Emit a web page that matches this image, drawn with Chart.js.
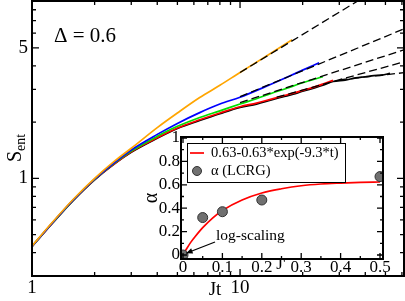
<!DOCTYPE html>
<html>
<head>
<meta charset="utf-8">
<script src="https://cdn.jsdelivr.net/npm/chart.js@4.4.0/dist/chart.umd.min.js"></script>
<style>
html, body { margin: 0; padding: 0; background: #fff; }
#wrap { position: relative; width: 405px; height: 301px; }
#wrap canvas { position: absolute; left: 0; top: 0; }
</style>
</head>
<body>
<div id="wrap">
  <canvas id="main" width="405" height="301"></canvas>
  <canvas id="inset" width="405" height="301"></canvas>
</div>
<script>
// --- data: main plot (Jt vs S_ent) ---
const tOrange = [1, 1.25, 1.58, 2, 2.5, 3, 4, 5, 6.4, 8, 10, 13, 17.8];
const sOrange = [0.434, 0.58, 0.773, 1.0, 1.24, 1.45, 1.87, 2.24, 2.71, 3.15, 3.69, 4.43, 5.52];

const tBlue = [1, 1.25, 1.58, 2, 2.5, 3, 4, 5, 6.4, 8, 10, 13, 17, 20, 24];
const sBlue = [0.432, 0.576, 0.767, 0.99, 1.22, 1.42, 1.72, 1.97, 2.25, 2.5, 2.72, 3.07, 3.5, 3.8, 4.16];

const tGreen = [1, 1.25, 1.58, 2, 2.5, 3, 4, 5, 6.4, 8, 10, 12, 14, 16.8, 20, 25];
const sGreen = [0.432, 0.575, 0.765, 0.987, 1.21, 1.4, 1.68, 1.9, 2.12, 2.3, 2.5, 2.67, 2.84, 3.04, 3.25, 3.5];

const tRed = [1, 1.25, 1.58, 2, 2.5, 3, 4, 5, 6.4, 8, 10, 12, 14, 16, 18, 20, 23, 25, 28];
const sRed = [0.432, 0.574, 0.764, 0.985, 1.2, 1.39, 1.65, 1.86, 2.06, 2.24, 2.42, 2.53, 2.65, 2.76, 2.86, 2.96, 3.1, 3.2, 3.35];

const tBlack = [1, 1.25, 1.58, 2, 2.5, 3, 4, 5, 6.4, 8, 10, 12, 14, 16, 18, 20, 23, 25, 28, 32, 36, 40, 44, 48, 52.6];
const sBlack = [0.432, 0.573, 0.762, 0.982, 1.2, 1.38, 1.64, 1.85, 2.04, 2.22, 2.4, 2.5, 2.62, 2.73, 2.82, 2.93, 3.06, 3.15, 3.3, 3.36, 3.45, 3.5, 3.55, 3.57, 3.65];

// dashed fits: start and end points
const fitOrange = [[10, 3.69], [61.4, 12.6]];
const fitBlue = [[10, 2.74], [61.4, 6.32]];
const fitGreen = [[10, 2.545], [61.4, 4.88]];
const fitRed = [[15, 2.72], [61.4, 4.21]];
const fitBlack = [[30, 3.37], [61.4, 3.68]];

// --- data: inset (alpha vs J') ---
const jFit = [0, 0.01, 0.02, 0.03, 0.05, 0.075, 0.1, 0.15, 0.2, 0.25, 0.3, 0.35, 0.4, 0.45, 0.5];
const aFit = [0, 0.058, 0.11, 0.154, 0.234, 0.316, 0.381, 0.47, 0.53, 0.566, 0.592, 0.607, 0.615, 0.621, 0.624];
const jPts = [0, 0.05, 0.1, 0.2, 0.5];
const aPts = [0, 0.32, 0.37, 0.47, 0.67];

const SERIF = "'Liberation Serif', 'DejaVu Serif', serif";

function pts(xs, ys) {
    return xs.map((x, i) => ({ x: x, y: ys[i] }));
}
function pairs(arr) {
    return arr.map(p => ({ x: p[0], y: p[1] }));
}

function solid(data, color, order) {
    return { data: data, borderColor: color, borderWidth: 1.7, pointRadius: 0, showLine: true, order: order };
}
function dashed(data) {
    return { data: data, borderColor: '#000', borderWidth: 1.3, borderDash: [8, 4], pointRadius: 0, showLine: true, order: 0 };
}

// ticks pointing inwards on all four sides
function drawFrame(chart, xMaj, xMin, yMaj, yMin, majLen, minLen) {
    const ctx = chart.ctx;
    const a = chart.chartArea;
    const sx = chart.scales.x, sy = chart.scales.y;
    ctx.save();
    ctx.strokeStyle = '#000';
    ctx.lineWidth = 1.3;
    ctx.beginPath();
    const tick = (v, len, isX) => {
        if (isX) {
            const p = sx.getPixelForValue(v);
            ctx.moveTo(p, a.bottom); ctx.lineTo(p, a.bottom - len);
            ctx.moveTo(p, a.top); ctx.lineTo(p, a.top + len);
        } else {
            const p = sy.getPixelForValue(v);
            ctx.moveTo(a.left, p); ctx.lineTo(a.left + len, p);
            ctx.moveTo(a.right, p); ctx.lineTo(a.right - len, p);
        }
    };
    xMaj.forEach(v => tick(v, majLen, true));
    xMin.forEach(v => tick(v, minLen, true));
    yMaj.forEach(v => tick(v, majLen, false));
    yMin.forEach(v => tick(v, minLen, false));
    ctx.stroke();
    ctx.lineWidth = 2;
    ctx.strokeRect(a.left, a.top, a.right - a.left, a.bottom - a.top);
    ctx.restore();
}

const mainPlugin = {
    id: 'mainDeco',
    afterDraw(chart) {
        const ctx = chart.ctx;
        const a = chart.chartArea;
        const sx = chart.scales.x, sy = chart.scales.y;
        drawFrame(chart, [1, 10], [2, 3, 4, 5, 6, 7, 8, 9, 20, 30, 40, 50, 60],
            [1, 5], [0.4, 0.5, 0.6, 0.7, 0.8, 0.9, 2, 3, 4, 6, 7, 8], 7, 4);
        ctx.save();
        ctx.fillStyle = '#000';
        ctx.font = '19px ' + SERIF;
        ctx.textBaseline = 'middle';
        ctx.textAlign = 'right';
        [1, 5].forEach(v => ctx.fillText(String(v), a.left - 4, sy.getPixelForValue(v)));
        ctx.textAlign = 'center';
        ctx.textBaseline = 'top';
        [1, 10].forEach(v => ctx.fillText(String(v), sx.getPixelForValue(v), a.bottom + 3));
        ctx.fillText('Jt', 215, a.bottom + 5);
        // y title
        ctx.save();
        ctx.translate(21, 162);
        ctx.rotate(-Math.PI / 2);
        ctx.textAlign = 'left';
        ctx.textBaseline = 'alphabetic';
        ctx.font = '20px ' + SERIF;
        ctx.fillText('S', 0, 0);
        const w = ctx.measureText('S').width;
        ctx.font = '14px ' + SERIF;
        ctx.fillText('ent', w, 4);
        ctx.restore();
        ctx.textAlign = 'left';
        ctx.textBaseline = 'middle';
        ctx.font = '21px ' + SERIF;
        ctx.fillText('\u0394 = 0.6', 54, 36);
        ctx.restore();
    }
};

new Chart(document.getElementById('main'), {
    type: 'scatter',
    data: {
        datasets: [
            dashed(pairs(fitOrange)),
            dashed(pairs(fitBlue)),
            dashed(pairs(fitGreen)),
            dashed(pairs(fitRed)),
            dashed(pairs(fitBlack)),
            solid(pts(tOrange, sOrange), '#ffa500', 1),
            solid(pts(tBlue, sBlue), '#0000ff', 2),
            solid(pts(tGreen, sGreen), '#00e000', 3),
            solid(pts(tRed, sRed), '#ff0000', 4),
            solid(pts(tBlack, sBlack), '#000000', 5)
        ]
    },
    options: {
        responsive: false,
        animation: false,
        devicePixelRatio: 1,
        layout: { padding: { left: 32, right: 1, top: 1, bottom: 25 } },
        elements: { line: { tension: 0.3, cubicInterpolationMode: 'monotone' } },
        plugins: { legend: { display: false }, tooltip: { enabled: false } },
        scales: {
            x: { type: 'logarithmic', min: 1, max: 61.4, display: false },
            y: { type: 'logarithmic', min: 0.3036, max: 8.91, display: false }
        }
    },
    plugins: [mainPlugin]
});

const insetPlugin = {
    id: 'insetDeco',
    beforeDatasetsDraw(chart) {
        const ctx = chart.ctx;
        const a = chart.chartArea;
        ctx.save();
        ctx.fillStyle = '#fff';
        ctx.fillRect(a.left, a.top, a.right - a.left, a.bottom - a.top);
        ctx.restore();
    },
    afterDraw(chart) {
        const ctx = chart.ctx;
        const a = chart.chartArea;
        const sx = chart.scales.x, sy = chart.scales.y;
        drawFrame(chart, [0, 0.1, 0.2, 0.3, 0.4, 0.5], [0.05, 0.15, 0.25, 0.35, 0.45],
            [0, 0.2, 0.4, 0.6, 0.8, 1], [0.1, 0.3, 0.5, 0.7, 0.9], 6, 3);
        ctx.save();
        ctx.fillStyle = '#000';
        ctx.font = '17px ' + SERIF;
        ctx.textAlign = 'right';
        ctx.textBaseline = 'middle';
        ['0', '0.2', '0.4', '0.6', '0.8', '1'].forEach((s, i) =>
            ctx.fillText(s, a.left - 1, sy.getPixelForValue(i * 0.2)));
        ctx.textAlign = 'center';
        ctx.textBaseline = 'top';
        ['0', '0.1', '0.2', '0.3', '0.4', '0.5'].forEach((s, i) =>
            ctx.fillText(s, sx.getPixelForValue(i * 0.1), a.bottom));
        ctx.fillText("J'", 281, a.bottom - 3);
        // alpha title
        ctx.save();
        ctx.translate(152, 198);
        ctx.rotate(-Math.PI / 2);
        ctx.textAlign = 'center';
        ctx.textBaseline = 'middle';
        ctx.font = '20px ' + SERIF;
        ctx.fillText('\u03b1', 0, 0);
        ctx.restore();

        // legend box
        ctx.lineWidth = 1;
        ctx.strokeStyle = '#000';
        ctx.fillStyle = '#fff';
        ctx.fillRect(187, 143, 158, 39);
        ctx.strokeRect(187.5, 143.5, 158, 39);
        ctx.strokeStyle = '#ff0000';
        ctx.lineWidth = 1.7;
        ctx.beginPath();
        ctx.moveTo(190, 153); ctx.lineTo(204, 153);
        ctx.stroke();
        ctx.fillStyle = '#707070';
        ctx.strokeStyle = '#333';
        ctx.lineWidth = 1;
        ctx.beginPath();
        ctx.arc(197, 171, 4.5, 0, Math.PI * 2);
        ctx.fill(); ctx.stroke();
        ctx.fillStyle = '#000';
        ctx.font = '14.5px ' + SERIF;
        ctx.textAlign = 'left';
        ctx.textBaseline = 'middle';
        ctx.fillText('0.63-0.63*exp(-9.3*t)', 211, 153);
        ctx.fillText('\u03b1 (LCRG)', 211, 171);

        // annotation
        ctx.font = '15.5px ' + SERIF;
        ctx.fillText('log-scaling', 216, 236);
        const tx = sx.getPixelForValue(0.008), ty = sy.getPixelForValue(0.015);
        const fx = 215, fy = 242;
        const ang = Math.atan2(ty - fy, tx - fx);
        ctx.strokeStyle = '#000';
        ctx.lineWidth = 1.3;
        ctx.beginPath();
        ctx.moveTo(fx, fy); ctx.lineTo(tx, ty);
        ctx.stroke();
        ctx.beginPath();
        ctx.moveTo(tx, ty);
        ctx.lineTo(tx - 7 * Math.cos(ang - 0.4), ty - 7 * Math.sin(ang - 0.4));
        ctx.lineTo(tx - 7 * Math.cos(ang + 0.4), ty - 7 * Math.sin(ang + 0.4));
        ctx.closePath();
        ctx.fill();
        ctx.restore();
    }
};

new Chart(document.getElementById('inset'), {
    type: 'scatter',
    data: {
        datasets: [
            {
                data: pts(jPts, aPts), pointRadius: 5, pointBackgroundColor: '#707070',
                pointBorderColor: '#333', pointBorderWidth: 1, showLine: false, order: 0
            },
            {
                data: pts(jFit, aFit), borderColor: '#ff0000', borderWidth: 1.7, pointRadius: 0,
                showLine: true, tension: 0.3, cubicInterpolationMode: 'monotone', order: 1
            }
        ]
    },
    options: {
        responsive: false,
        animation: false,
        devicePixelRatio: 1,
        layout: { padding: { left: 181, right: 22, top: 137, bottom: 42 } },
        plugins: { legend: { display: false }, tooltip: { enabled: false } },
        scales: {
            x: { type: 'linear', min: -0.00508, max: 0.5076, display: false },
            y: { type: 'linear', min: -0.0342, max: 1.0085, display: false }
        }
    },
    plugins: [insetPlugin]
});
</script>
</body>
</html>
